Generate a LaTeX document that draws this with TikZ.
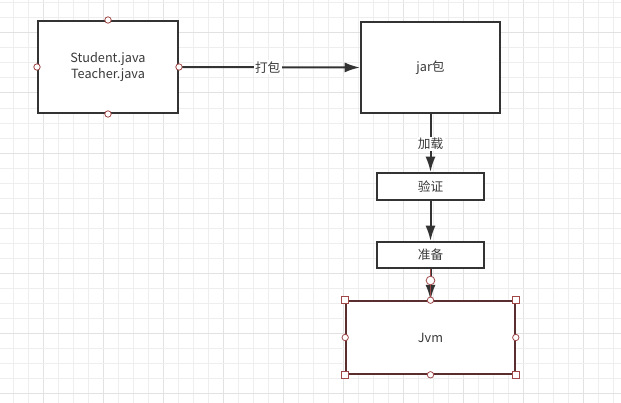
\documentclass[tikz,border=0pt]{standalone}
\usepackage{fontspec}
\setmainfont{Noto Sans CJK SC}
\usetikzlibrary{arrows.meta}
\definecolor{gridminor}{HTML}{EEEEEE}
\definecolor{gridmajor}{HTML}{E2E2E2}
\definecolor{txt}{HTML}{3A3A3A}
\definecolor{edge}{HTML}{333333}
\definecolor{handle}{HTML}{A04848}
\definecolor{selbox}{HTML}{5A2E2E}
\tikzset{
  boxnode/.style={draw=edge, line width=1.5pt, fill=white, inner sep=0pt, text=txt, align=center, font=\fontsize{9.5}{12.5}\selectfont},
  conn/.style={draw=edge, line width=1.5pt, -{Latex[length=11.5pt,width=7.5pt]}},
  lbl/.style={fill=white, inner sep=1pt, text=txt, font=\fontsize{9.5}{12}\selectfont},
  hcirc/.style={circle, draw=handle, fill=white, line width=0.6pt, minimum size=4.8pt, inner sep=0pt},
  hsq/.style={rectangle, draw=handle, fill=white, line width=0.6pt, minimum size=5pt, inner sep=0pt},
}
\begin{document}
\begin{tikzpicture}[x=0.75pt,y=-0.75pt]
\useasboundingbox (0,0) rectangle (621,403);
\fill[white] (0,0) rectangle (621,403);
% grid
\foreach \i in {0,...,40} {
  \pgfmathtruncatemacro{\gx}{13+15*\i}
  \pgfmathtruncatemacro{\m}{mod(\gx-43+600,60)}
  \ifnum\m=0 \draw[gridmajor,line width=0.75pt] (\gx,0) -- (\gx,403);
  \else \draw[gridminor,line width=0.75pt] (\gx,0) -- (\gx,403); \fi
}
\foreach \j in {0,...,26} {
  \pgfmathtruncatemacro{\gy}{3+15*\j}
  \pgfmathtruncatemacro{\m}{mod(\gy-33+600,60)}
  \ifnum\m=0 \draw[gridmajor,line width=0.75pt] (0,\gy) -- (621,\gy);
  \else \draw[gridminor,line width=0.75pt] (0,\gy) -- (621,\gy); \fi
}
% nodes
\node[boxnode, minimum width=105pt, minimum height=69pt] (src) at (108,67) {Student.java\\Teacher.java};
\node[boxnode, minimum width=104.25pt, minimum height=68.25pt] (jar) at (430.5,67.5) {jar包};
\node[boxnode, minimum width=80.25pt, minimum height=20.25pt] (verify) at (430.5,186.5) {验证};
\node[boxnode, minimum width=80.25pt, minimum height=19.5pt] (prep) at (430.5,255) {准备};
\node[boxnode, draw=selbox, line width=1.2pt, minimum width=126.75pt, minimum height=54.75pt] (jvm) at (430.5,337.5) {Jvm};
% connectors
\draw[conn] (src.east) -- node[lbl, pos=0.49] {打包} (jar.west);
\draw[conn] (jar.south) -- node[lbl, pos=0.52] {加载} (verify.north);
\draw[conn] (verify.south) -- (prep.north);
\draw[conn] (prep.south) -- (jvm.north);
\draw[handle, line width=0.6pt] (prep.south) -- (jvm.north);
% handles on source box
\node[hcirc] (h1) at (src.north) {};
\node[hcirc] (h2) at (src.south) {};
\node[hcirc] (h3) at (src.west) {};
\node[hcirc] (h4) at (src.east) {};
% selection handles on jvm
\node[hsq] (s1) at (jvm.north west) {};
\node[hsq] (s2) at (jvm.north east) {};
\node[hsq] (s3) at (jvm.south west) {};
\node[hsq] (s4) at (jvm.south east) {};
\node[hcirc] (c1) at (jvm.north) {};
\node[hcirc] (c2) at (jvm.south) {};
\node[hcirc] (c3) at (jvm.west) {};
\node[hcirc] (c4) at (jvm.east) {};
\node[hcirc, minimum size=6.5pt] (c5) at (430.5,280.5) {};
\end{tikzpicture}
\end{document}
